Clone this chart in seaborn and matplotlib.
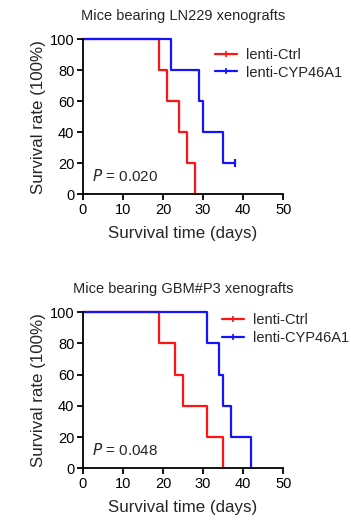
import pandas as pd
import numpy as np
import matplotlib
matplotlib.use("Agg")
import matplotlib.pyplot as plt
import seaborn as sns
from matplotlib.lines import Line2D

# Kaplan-Meier step data (time in days, survival in %)
groups = ["lenti-Ctrl", "lenti-CYP46A1"]
colors = {"lenti-Ctrl": "#ff1414", "lenti-CYP46A1": "#1414ff"}

# LN229
ln229_ctrl_t = [0, 19, 21, 24, 26, 28]
ln229_ctrl_s = [100, 80, 60, 40, 20, 0]
ln229_cyp_t = [0, 22, 29, 30, 35, 38]
ln229_cyp_s = [100, 80, 60, 40, 20, 20]
ln229_censor_t = [38]
ln229_censor_s = [20]
ln229_p = "0.020"

# GBM#P3
p3_ctrl_t = [0, 19, 23, 25, 31, 35]
p3_ctrl_s = [100, 80, 60, 40, 20, 0]
p3_cyp_t = [0, 31, 34, 35, 37, 42]
p3_cyp_s = [100, 80, 60, 40, 20, 0]
p3_p = "0.048"

sns.set_style("ticks")
plt.rcParams["font.family"] = ["Liberation Sans", "DejaVu Sans"]

fig = plt.figure(figsize=(3.51, 5.30), dpi=100)
ax1 = fig.add_axes([0.2356, 0.6334, 0.5716, 0.293])
ax2 = fig.add_axes([0.2356, 0.1164, 0.5716, 0.2944])


def km_panel(ax, ctrl_t, ctrl_s, cyp_t, cyp_s, title, pval, leg_pos, censor=None):
    df = pd.concat([
        pd.DataFrame({"time": ctrl_t, "surv": ctrl_s, "group": groups[0]}),
        pd.DataFrame({"time": cyp_t, "surv": cyp_s, "group": groups[1]}),
    ])
    sns.lineplot(data=df, x="time", y="surv", hue="group", palette=colors,
                 drawstyle="steps-post", linewidth=1.6, ax=ax, legend=False,
                 estimator=None, sort=False)
    for l in ax.lines:
        l.set_clip_on(False)
    if censor is not None:
        ax.plot(censor[0], censor[1], marker="|", color=colors[groups[1]],
                markersize=6, mew=1.6, linestyle="none", clip_on=False)
    ax.set_xlim(0, 50)
    ax.set_ylim(0, 100)
    ax.set_xticks(range(0, 51, 10))
    ax.set_yticks(range(0, 101, 20))
    for s in ["top", "right"]:
        ax.spines[s].set_visible(False)
    for s in ["left", "bottom"]:
        ax.spines[s].set_linewidth(1.3)
        ax.spines[s].set_color("black")
    ax.tick_params(width=1.3, length=4, labelsize=10.5, colors="black", pad=2)
    ax.set_xlabel("Survival time (days)", fontsize=12.2, labelpad=7)
    ax.set_ylabel("Survival rate (100%)", fontsize=12.2, labelpad=3)
    ax.set_title(title, fontsize=10.5, pad=14)
    ax.text(0.045, 0.12, "$\\it{P}$ = " + pval, transform=ax.transAxes,
            fontsize=11, ha="left", va="center")
    handles = [Line2D([0], [0], color=colors[g], lw=1.6, marker="|",
                      markersize=4, mew=1.2) for g in groups]
    ax.legend(handles, groups, loc="upper left", bbox_to_anchor=leg_pos,
              frameon=False, fontsize=10.5, handlelength=1.5,
              handletextpad=0.6, borderaxespad=0, labelspacing=0.25)


km_panel(ax1, ln229_ctrl_t, ln229_ctrl_s, ln229_cyp_t, ln229_cyp_s,
         "Mice bearing LN229 xenografts", ln229_p, (0.63, 0.98),
         censor=(ln229_censor_t, ln229_censor_s))
km_panel(ax2, p3_ctrl_t, p3_ctrl_s, p3_cyp_t, p3_cyp_s,
         "Mice bearing GBM#P3 xenografts", p3_p, (0.665, 1.03))

fig.savefig("out.png", dpi=100)
